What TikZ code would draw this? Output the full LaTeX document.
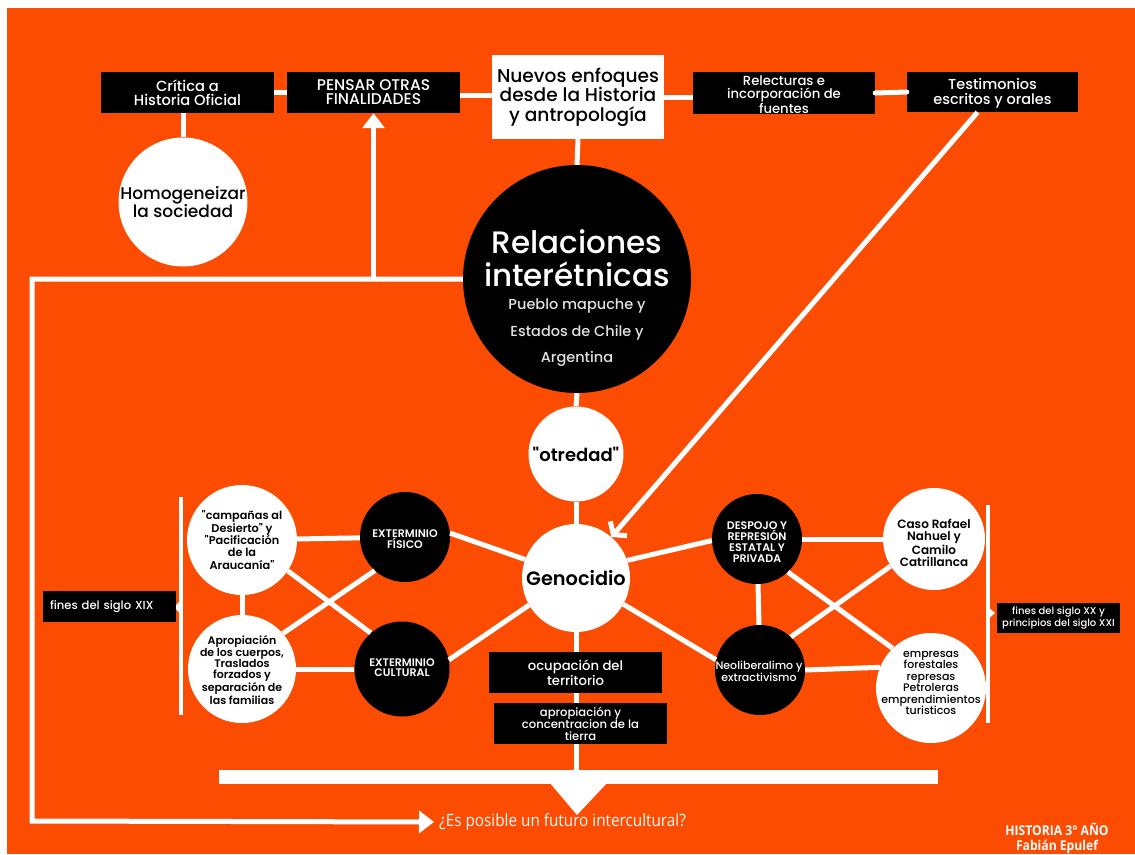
\documentclass[tikz,border=0pt]{standalone}
\usepackage{fontspec}
\setmainfont{Poppins Medium}[Ligatures=TeXOff, BoldFont={Poppins SemiBold}]
\newfontfamily\cond[FakeStretch=0.9]{Open Sans}
\usetikzlibrary{arrows.meta}
\definecolor{bgor}{RGB}{252,76,2}
\definecolor{subgray}{RGB}{225,225,225}
\tikzset{
  conn/.style={white, line width=5pt},
  brk/.style={white, line width=4pt},
  fs/.style n args={2}{font=\fontsize{#1}{#2}\selectfont},
  fsb/.style n args={2}{font=\fontsize{#1}{#2}\selectfont\bfseries},
  blackbox/.style={fill=black, text=white, inner sep=0pt, align=center},
  whitebox/.style={fill=white, text=black, inner sep=0pt, align=center},
  wcirc/.style={circle, fill=white, text=black, inner sep=0pt, align=center},
  bcirc/.style={circle, fill=black, text=white, inner sep=0pt, align=center},
  label/.style={inner sep=0pt, align=center},
  bigtip/.style={-{Triangle[length=15pt,width=22pt]}},
  bartip/.style={-{Straight Barb[length=8pt,width=22pt]}},
}
\begin{document}
\begin{tikzpicture}[x=1pt,y=-1pt]
\fill[white] (0,0) rectangle (1135,854);
\fill[bgor] (7,8) rectangle (1135,854);
\useasboundingbox (0,0) rectangle (1135,854);

% ---------- top row ----------
\node[blackbox, minimum width=173pt, minimum height=41pt, fs={14.7}{14}] (crit) at (187.5,92.5) {Crítica a\\Historia Oficial};
\node[blackbox, minimum width=173pt, minimum height=41pt, fs={15.5}{14}] (pensar) at (373.5,92.5) {PENSAR OTRAS\\FINALIDADES};
\node[whitebox, minimum width=172pt, minimum height=84pt, fs={18.6}{19.5}] (nuevos) at (578,97) {Nuevos enfoques\\desde la Historia\\y antropología};
\node[blackbox, minimum width=182pt, minimum height=42pt] (relec) at (784,93) {};
\node[label, text=white, fs={13.2}{13}] (relectext) at (784,94.5) {Relecturas e\\incorporación de\\fuentes};
\node[blackbox, minimum width=171pt, minimum height=40pt] (testi) at (992.5,92) {};
\node[label, text=white, fs={14.5}{15}] (testitext) at (992.5,93.5) {Testimonios\\escritos y orales};

\draw[conn] (crit.east) -- (pensar.west);
\draw[conn] ([yshift=-3pt]pensar.east) -- ([yshift=-3pt]nuevos.west |- pensar.east);
\draw[conn] ([yshift=-4pt]nuevos.east |- relec.west) -- ([yshift=-4pt]relec.west);
\draw[conn, line cap=round] (relec.east) -- (testi.west);

\node[wcirc, minimum size=128pt, fs={17}{17.5}] (homog) at (183,202) {Homogeneizar\\la sociedad};
\draw[conn] (crit.south -| homog) -- (homog.north);

% ---------- centre ----------
\node[bcirc, minimum size=228pt] (rel) at (577,279) {};
\node[label, text=white, fs={31}{33}] (reltitle) at (577,258) {Relaciones\\interétnicas};
\node[label, text=subgray, fs={14.5}{26.5}] (relsub) at (577,333) {Pueblo mapuche y\\Estados de Chile y\\Argentina};
\draw[conn] (nuevos.south) -- (rel.north);

\node[wcirc, minimum size=95pt, fsb={18}{18}] (otr) at (576,454) {"otredad"};
\draw[conn] (rel.south) -- (otr.north);

\node[wcirc, minimum size=108pt, fsb={19.3}{20}] (geno) at (576,578) {Genocidio};
\draw[conn] (otr.south) -- (geno.north);

\draw[conn, bartip] ([xshift=-15pt]testi.south) -- (geno);

% long feedback line
\coordinate (tl) at (32,279);
\coordinate (bl) at (32,821);
\node[text=white, font=\cond\fontsize{17}{17}\selectfont, anchor=west, inner sep=0pt] (futuro) at (439,822) {¿Es posible un futuro intercultural?};
\draw[conn, bigtip, shorten >=5pt] (rel.west) -- (tl) -- (bl) -- (futuro.west);
\draw[conn, bigtip] (pensar.south |- tl) -- (pensar.south);

% ---------- bottom stack ----------
\node[blackbox, minimum width=173pt, minimum height=41pt, fs={13.2}{13}] (ocup) at (575.5,672.5) {ocupación del\\territorio};
\node[blackbox, minimum width=173pt, minimum height=41pt, fs={11.6}{12}] (apro) at (580.5,723.5) {apropiación y\\concentracion de la\\tierra};
\node[fill=white, minimum width=719pt, minimum height=14pt, inner sep=0pt] (bar) at (578.5,777) {};
\fill[white] (550,783) -- (607,783) -- (577,815) -- cycle;

\draw[conn] (geno.south) -- (geno.south |- ocup.north);
\draw[conn] (geno.south |- ocup.south) -- (geno.south |- apro.north);
\draw[conn] (geno.south |- apro.south) -- (geno.south |- bar.north);

% ---------- left cluster ----------
\node[wcirc, minimum size=110pt] (camp) at (242,540) {};
\node[label, fsb={11.3}{12.3}] (camptext) at (242,540) {"campañas al\\Desierto" y\\"Pacificación\\de la\\Araucanía"};
\node[wcirc, minimum size=108pt] (aprc) at (242,669) {};
\node[label, fsb={11}{11.3}] (aprctext) at (242,670) {Apropiación\\de los cuerpos,\\Traslados\\forzados y\\separación de\\las familias};
\node[bcirc, minimum size=90pt] (ef) at (405,537) {};
\node[label, text=white, fsb={11}{10}] (eftext) at (405,539) {EXTERMINIO\\FÍSICO};
\node[bcirc, minimum size=95pt] (ec) at (402,669) {};
\node[label, text=white, fsb={11}{10}] (ectext) at (402,668) {EXTERMINIO\\CULTURAL};

\draw[conn] (camp) -- (ef);
\draw[conn] (aprc) -- (ec);
\draw[conn] (camp) -- (aprc);
\draw[conn] (camp.326) -- (ec.131);
\draw[conn] (aprc.41) -- (ef.228);
\draw[conn] (ef.5) -- (geno.160);
\draw[conn] (ec.11) -- (geno.210);

\coordinate (lbt) at (181,497);
\coordinate (lbb) at (181,715);
\draw[brk] (lbt) -- (lbb);
\fill[white] (182,599) -- (174,607) -- (182,615) -- cycle;
\node[blackbox, minimum width=133pt, minimum height=31pt, text width=119pt, align=left, fs={11.6}{12}] (fin19) at (109.5,606.5) {fines del siglo XIX};

% ---------- right cluster ----------
\node[bcirc, minimum size=90pt] (desp) at (757,539) {};
\node[label, text=white, fsb={11}{11}] (desptext) at (757,542) {DESPOJO Y\\REPRESIÓN\\ESTATAL Y\\PRIVADA};
\node[bcirc, minimum size=90pt] (neo) at (760,670) {};
\node[label, text=white, fs={11}{11}] (neotext) at (759,671) {Neoliberalimo y\\extractivismo};
\node[wcirc, minimum size=102pt] (caso) at (934,539) {};
\node[label, fsb={12}{12.3}] (casotext) at (934,543) {Caso Rafael\\Nahuel y\\Camilo\\Catrillanca};
\node[wcirc, minimum size=110pt] (emp) at (931,688) {};
\node[label, fs={11}{11.4}] (emptext) at (931,683) {empresas\\forestales\\represas\\Petroleras\\emprendimientos\\turisticos};

\draw[conn] (geno.19) -- (desp.182);
\draw[conn] (geno.331) -- (neo.167);
\draw[conn] (desp) -- (caso);
\draw[conn] (neo.east) -- (emp.158);
\draw[conn] (desp) -- (neo);
\draw[conn] (desp.313) -- (emp.134);
\draw[conn] (neo.47) -- (caso.212);

\coordinate (rbt) at (988,505);
\coordinate (rbb) at (988,723);
\draw[brk] (rbt) -- (rbb);
\fill[white] (987,606) -- (995,613) -- (987,620) -- cycle;
\node[blackbox, minimum width=123pt, minimum height=30pt, fs={10}{10}] (fin20) at (1058.5,618) {fines del siglo XX y\\principios del siglo XXI};

% ---------- footer ----------
\node[text=white, font=\cond\bfseries\fontsize{13.5}{15}\selectfont, align=center, inner sep=0pt] (hist) at (1057,838) {HISTORIA 3° AÑO\\Fabián Epulef};
\end{tikzpicture}
\end{document}
